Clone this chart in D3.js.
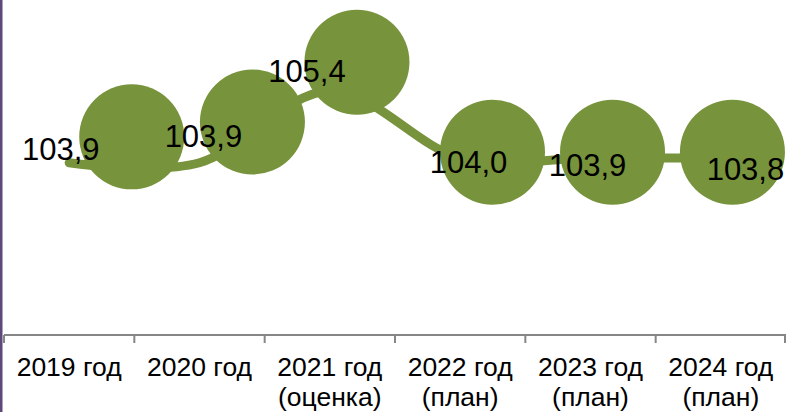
<!DOCTYPE html>
<html><head><meta charset="utf-8">
<script src="https://cdn.jsdelivr.net/npm/d3@7"></script>
<style>html,body{margin:0;padding:0;background:#fff;}svg{display:block;}</style>
</head><body>
<script>
// Data
const categories = ["2019 год", "2020 год", "2021 год\n(оценка)", "2022 год\n(план)", "2023 год\n(план)", "2024 год\n(план)"];
const labelValues = [103.9, 103.9, 105.4, 104.0, 103.9, 103.8];
const lineValues = [103.9, 103.9, 105.4, 104.0, 104.0, 104.0];
// Bubbles: position in category units and value units (as drawn on the picture)
const bubblePos = [0.48, 1.406, 2.208, 3.248, 4.169, 5.089];
const bubbleValues = [104.44, 104.75, 106.0, 104.12, 104.12, 104.12];

const W = 786, H = 412;
const left = 4, right = 786, axisY = 335;
const svg = d3.select("body").append("svg").attr("width", W).attr("height", H);

const x = d3.scaleBand().domain(d3.range(categories.length)).range([left, right]);
const xc = d3.scaleLinear().domain([-0.5, categories.length - 0.5]).range([left, right]);
const y = d3.scaleLinear().domain([100.3, 107.3]).range([axisY, 0]);

const green = "#77933c";

// left vertical bar
svg.append("rect").attr("x", 0).attr("y", 0).attr("width", 2.5).attr("height", H).attr("fill", "#5f497a");

// line
const line = d3.line().x((d, i) => xc(i)).y(d => y(d)).curve(d3.curveCatmullRom.alpha(0));
svg.append("path").datum(lineValues).attr("d", line)
  .attr("fill", "none").attr("stroke", green).attr("stroke-width", 9).attr("stroke-linecap", "round");

// bubbles
svg.selectAll("circle.b").data(bubblePos).join("circle").attr("class", "b")
  .attr("cx", d => xc(d)).attr("cy", (d, i) => y(bubbleValues[i])).attr("r", 52.5).attr("fill", green);

// x axis
const ax = svg.append("g").attr("transform", `translate(0,${axisY})`);
ax.append("line").attr("x1", left).attr("x2", right).attr("stroke", "#868686").attr("stroke-width", 2);
const tickXs = d3.range(categories.length + 1).map(i => xc(i - 0.5));
ax.selectAll("line.t").data(tickXs).join("line").attr("class", "t")
  .attr("x1", d => Math.min(d, right - 1)).attr("x2", d => Math.min(d, right - 1)).attr("y1", 0).attr("y2", 8)
  .attr("stroke", "#868686").attr("stroke-width", 2);

const tl = ax.selectAll("text.c").data(categories).join("text").attr("class", "c")
  .attr("x", (d, i) => x(i) + x.bandwidth() / 2).attr("y", 41)
  .attr("text-anchor", "middle").attr("font-family", "Liberation Sans, Arial, sans-serif")
  .attr("font-size", 26.5).attr("fill", "#000");
tl.each(function(d) {
  const parts = d.split("\n");
  d3.select(this).selectAll("tspan").data(parts).join("tspan")
    .attr("x", d3.select(this).attr("x")).attr("dy", (p, j) => j ? 30 : 0).text(p => p);
});

// data labels (offsets from the bubble / line positions as in the picture)
const fmt = v => v.toFixed(1).replace(".", ",");
const labelDx = [-71, -49, -50, -24, -25, 13];
const labelY = [160, 147, 82, 173, 176, 180];
svg.selectAll("text.l").data(labelValues).join("text").attr("class", "l")
  .attr("x", (d, i) => xc(bubblePos[i]) + labelDx[i]).attr("y", (d, i) => labelY[i])
  .attr("text-anchor", "middle").attr("font-family", "Liberation Sans, Arial, sans-serif")
  .attr("font-size", 31).attr("fill", "#000").text(fmt);
</script>
</body></html>
